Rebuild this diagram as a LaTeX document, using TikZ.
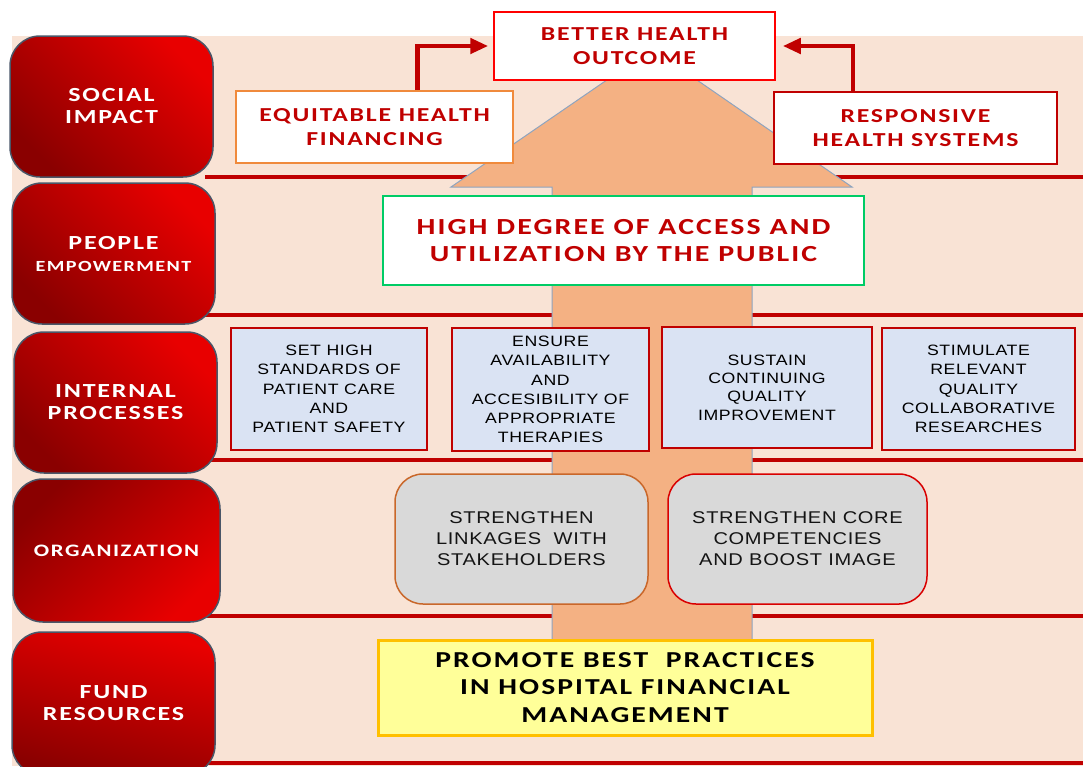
\documentclass[tikz,border=0pt]{standalone}
\usepackage{fontspec}
\usepackage{xcolor}
\usepackage{tikz}
\usetikzlibrary{arrows.meta,calc}
\newfontfamily\capsfont{Carlito}[FakeStretch=1.3,LetterSpace=9]
\newfontfamily\plainfont{Liberation Sans}[FakeStretch=1.18,LetterSpace=4]
\definecolor{darkred}{HTML}{C00000}
\definecolor{brightred}{HTML}{E80000}
\definecolor{deepred}{HTML}{8A0000}
\definecolor{slate}{HTML}{4A5668}
\definecolor{peach}{HTML}{F9E3D5}
\definecolor{shaft}{HTML}{F4B183}
\definecolor{shaftline}{HTML}{8EA4BF}
\definecolor{procblue}{HTML}{DAE3F3}
\definecolor{orggray}{HTML}{D9D9D9}
\definecolor{linkorange}{HTML}{C9672A}
\definecolor{lemon}{HTML}{FFFF99}
\definecolor{amber}{HTML}{FFC000}
\definecolor{leaf}{HTML}{00CC66}
\definecolor{tangerine}{HTML}{F08A3C}
\tikzset{
  rowbox/.style={draw=slate, line width=1.5pt, rounded corners=30pt,
    minimum width=203pt, minimum height=141pt, align=center, text=white,
    top color=brightred, bottom color=deepred, shading angle=-45,
    font=\capsfont\bfseries\fontsize{20}{22}\selectfont},
  goalbox/.style={draw, fill=white, align=center, text=darkred, inner sep=0pt,
    font=\capsfont\bfseries\fontsize{19.8}{24}\selectfont},
  procbox/.style={draw=darkred, line width=2pt, fill=procblue, align=center,
    inner sep=0pt, font=\plainfont\fontsize{15}{19.2}\selectfont},
  orgbox/.style={fill=orggray, line width=1.5pt, rounded corners=28pt,
    minimum height=130pt, align=center, text=black!92,
    font=\plainfont\fontsize{17}{21}\selectfont},
  sepline/.style={darkred, line width=4pt},
  link/.style={darkred, line width=4.5pt, -{Triangle[length=18pt,width=15pt]}},
}
\begin{document}
\begin{tikzpicture}[x=1pt,y=-1pt]
  \useasboundingbox (0,0) rectangle (1083,766);
  \clip (0,0) rectangle (1083,766);
  \fill[peach] (12,36) rectangle (1083,766);
  \foreach \y in {177,315,460,616,763}
    \draw[sepline] (205,\y) -- (1083,\y);
  % the big arrow behind the goals
  \draw[fill=shaft, draw=shaftline, line width=1pt]
    (552,700) -- (552,187) -- (451,187) -- (652,49) -- (852,187)
    -- (752,187) -- (752,700) -- cycle;

  \node[rowbox] (social) at (111.5,106.5) {SOCIAL\\IMPACT};
  \node[rowbox] (people) at (113.5,253.5)
    {PEOPLE\\{\fontsize{15.5}{20}\selectfont EMPOWERMENT}};
  \node[rowbox] (internal) at (115.5,402.5) {INTERNAL\\PROCESSES};
  \node[rowbox, minimum width=207pt, minimum height=143pt, shading angle=-135,
    font=\capsfont\bfseries\fontsize{17.5}{22}\selectfont] (organization) at (116.5,550.5) {ORGANIZATION};
  \node[rowbox, minimum height=143pt, shading angle=-15] (fund) at (113.5,703.5) {FUND\\RESOURCES};

  \node[goalbox, draw=red, line width=1.5pt, minimum width=281pt, minimum height=68pt]
    (outcome) at (634.5,46) {BETTER HEALTH\\OUTCOME};
  \node[goalbox, draw=tangerine, line width=2pt, minimum width=277pt, minimum height=72pt]
    (equitable) at (374.5,127) {EQUITABLE HEALTH\\FINANCING};
  \node[goalbox, draw=darkred, line width=1.5pt, minimum width=283pt, minimum height=72pt]
    (responsive) at (915.5,128) {RESPONSIVE\\HEALTH SYSTEMS};
  \node[goalbox, draw=leaf, line width=2pt, minimum width=481pt, minimum height=89pt,
    font=\capsfont\bfseries\fontsize{23}{27}\selectfont]
    (access) at (623.5,240.5) {HIGH DEGREE OF ACCESS AND\\UTILIZATION BY THE PUBLIC};

  \node[procbox, minimum width=196pt, minimum height=122pt] (standards) at (329,389)
    {SET HIGH\\STANDARDS OF\\PATIENT CARE\\AND\\PATIENT SAFETY};
  \node[procbox, minimum width=197pt, minimum height=123pt] (ensure) at (550.5,389.5)
    {ENSURE\\AVAILABILITY\\AND\\ACCESIBILITY OF\\APPROPRIATE\\THERAPIES};
  \node[procbox, minimum width=210pt, minimum height=121pt,
    font=\plainfont\fontsize{15}{18.3}\selectfont] (sustain) at (767,387.5)
    {SUSTAIN\\CONTINUING\\QUALITY\\IMPROVEMENT};
  \node[procbox, minimum width=193pt, minimum height=122pt] (stimulate) at (978.5,389)
    {STIMULATE\\RELEVANT\\QUALITY\\COLLABORATIVE\\RESEARCHES};

  \node[orgbox, draw=linkorange, minimum width=253pt] (linkages) at (521.5,539)
    {STRENGTHEN\\LINKAGES~ WITH\\STAKEHOLDERS};
  \node[orgbox, draw=red!85!black, minimum width=259pt] (core) at (797.5,539)
    {STRENGTHEN CORE\\COMPETENCIES\\AND BOOST IMAGE};

  \node[goalbox, draw=amber, fill=lemon, line width=3pt, text=black,
    minimum width=494pt, minimum height=95pt,
    font=\capsfont\bfseries\fontsize{22.8}{27.5}\selectfont] (promote) at (625,687.5)
    {PROMOTE BEST~ PRACTICES\\IN HOSPITAL FINANCIAL\\MANAGEMENT};

  \draw[link, shorten >=5pt] ([xshift=43pt]equitable.north) |- (outcome.west);
  \draw[link, shorten >=7pt] ([xshift=-62.5pt]responsive.north) |- (outcome.east);
\end{tikzpicture}
\end{document}
